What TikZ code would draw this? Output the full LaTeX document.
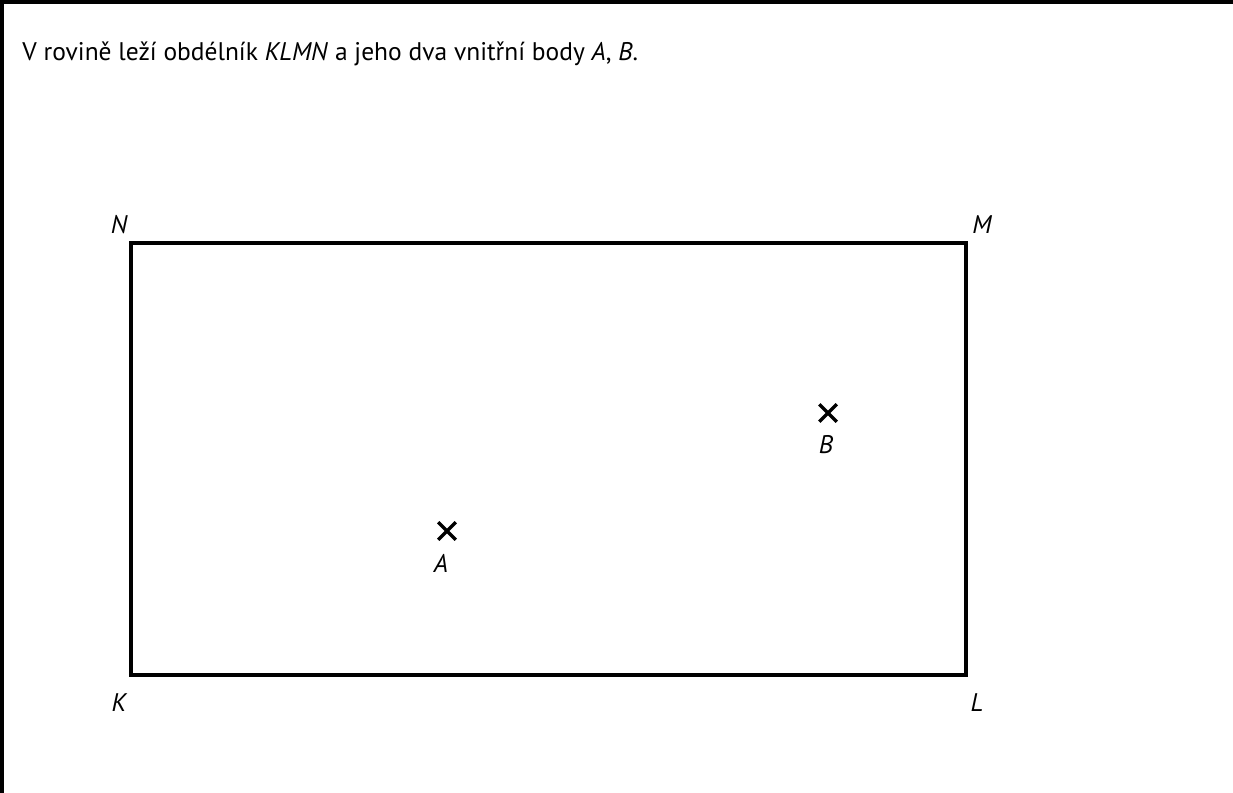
\documentclass[tikz,border=0pt]{standalone}
\usepackage{fontspec}
\setmainfont{PT Sans}
\usepackage{tikz}
\usetikzlibrary{positioning,shapes.misc}

\begin{document}
\begin{tikzpicture}[x=0.02cm,y=-0.02cm,
 edge/.style={line width=2.2pt,line cap=rect},
 bod/.style={cross out,draw,line width=2pt,minimum size=0.28cm,inner sep=0pt},
 tag/.style={font=\fontsize{14.5}{17}\selectfont\itshape,inner sep=0pt}]
\useasboundingbox (0,0) rectangle (1233,793);
% frame
\coordinate (F) at (1.8,1.8);
\coordinate (Fr) at (1233,1.8);
\coordinate (Fb) at (1.8,793);
\draw[line width=2pt] (Fr)--(F)--(Fb);
\node[anchor=base west,inner sep=0pt,font=\fontsize{14.5}{17}\selectfont] (zadani) at (22,61)
 {V rovině leží obdélník \textit{KLMN} a jeho dva vnitřní body \textit{A}, \textit{B}.};
% rectangle KLMN
\coordinate (K) at (131,675);
\coordinate (L) at (966,675);
\coordinate (M) at (966,243);
\coordinate (N) at (131,243);
\draw[edge] (K)--(L)--(M)--(N)--cycle;
\foreach \v/\p in {K/{(119,703)},L/{(977,703)},M/{(982,225)},N/{(119,225)}}
 {\node[tag] (t\v) at \p {\v};}
% points
\node[bod] (A) at (447,531) {};
\node[bod] (B) at (828,413) {};
\node[tag] (tA) at (441,563) {A};
\node[tag] (tB) at (826,445) {B};
\end{tikzpicture}
\end{document}
